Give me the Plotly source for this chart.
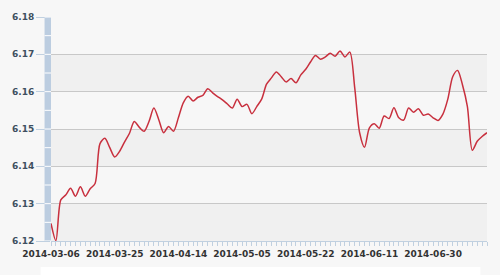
import plotly.graph_objects as go
import pandas as pd

# Trading days (CNY holidays excluded)
holidays = ["2014-04-07", "2014-05-01", "2014-05-02", "2014-06-02"]
dates = [d.strftime("%Y-%m-%d") for d in pd.bdate_range("2014-03-06", "2014-07-15")
         if d.strftime("%Y-%m-%d") not in holidays]

rate = [
    6.1247, 6.1201, 6.1310, 6.1323, 6.1341, 6.1320, 6.1345, 6.1320, 6.1340, 6.1354,
    6.1461, 6.1475, 6.1450, 6.1425, 6.1440, 6.1465, 6.1488, 6.1520, 6.1505, 6.1494,
    6.1520, 6.1556, 6.1525, 6.1490, 6.1507, 6.1494, 6.1530, 6.1570, 6.1588, 6.1575,
    6.1585, 6.1590, 6.1608, 6.1597, 6.1587, 6.1578, 6.1567, 6.1556, 6.1580, 6.1560,
    6.1566, 6.1541, 6.1560, 6.1580, 6.1620, 6.1637, 6.1653, 6.1640, 6.1626, 6.1635,
    6.1624, 6.1645, 6.1660, 6.1680, 6.1697, 6.1687, 6.1693, 6.1703, 6.1695, 6.1709,
    6.1693, 6.1706, 6.1610, 6.1490, 6.1451, 6.1503, 6.1514, 6.1502, 6.1535, 6.1528,
    6.1557, 6.1530, 6.1524, 6.1556, 6.1545, 6.1554, 6.1537, 6.1540, 6.1530, 6.1523,
    6.1540, 6.1580, 6.1640, 6.1657, 6.1618, 6.1560, 6.1443, 6.1467, 6.1480, 6.1490,
]

label_every = 13
y_ticks = [6.12, 6.13, 6.14, 6.15, 6.16, 6.17, 6.18]

fig = go.Figure()
fig.add_trace(go.Scatter(
    x=dates, y=rate, mode="lines",
    line=dict(color="#c8303e", width=1.5, shape="spline", smoothing=0.8),
    hoverinfo="x+y", showlegend=False,
))

shapes = []
# alternating bands
for i in range(len(y_ticks) - 1):
    if i % 2 == 0:
        shapes.append(dict(type="rect", xref="x domain", yref="y", x0=0, x1=1,
                           y0=y_ticks[i], y1=y_ticks[i + 1], fillcolor="#f0f0f0",
                           line=dict(width=0), layer="below"))
# blue bar at left
bar_w = 6.5 / 439.2
shapes.append(dict(type="rect", xref="x domain", yref="y", x0=-bar_w, x1=0,
                   y0=6.12, y1=6.18, fillcolor="#bccde0", line=dict(width=0), layer="above"))
v = 6.12
while v <= 6.18 + 1e-9:
    shapes.append(dict(type="line", xref="x domain", yref="y", x0=-bar_w, x1=0,
                       y0=v, y1=v, line=dict(color="#ffffff", width=1), layer="above"))
    v += 0.005
# white box at bottom
shapes.append(dict(type="rect", xref="paper", yref="paper", x0=-0.0239, x1=0.9848,
                   y0=-0.16, y1=-0.116, fillcolor="#ffffff", line=dict(width=0), layer="above"))

fig.update_layout(
    width=500, height=275,
    margin=dict(l=47.5, r=13.3, t=16.7, b=34),
    paper_bgcolor="#f7f7f7", plot_bgcolor="#f7f7f7",
    shapes=shapes,
    xaxis=dict(
        type="category", range=[0, len(dates) - 1],
        tickvals=dates,
        ticktext=[d if i % label_every == 0 else "" for i, d in enumerate(dates)],
        ticks="outside", ticklen=4, tickcolor="#c0d0e0", tickwidth=1,
        showline=True, linecolor="#c0d0e0", linewidth=1,
        showgrid=False, zeroline=False,
        tickfont=dict(family="DejaVu Sans", size=9, color="#333333", weight="bold"),
        tickangle=0,
    ),
    yaxis=dict(
        range=[6.12, 6.18], tickvals=y_ticks,
        ticktext=[f"{t:.2f}" for t in y_ticks],
        ticks="outside", ticklen=14, tickcolor="#c0d0e0", tickwidth=1,
        showgrid=True, gridcolor="#c8c8c8", gridwidth=1,
        zeroline=False, showline=False,
        tickfont=dict(family="DejaVu Sans", size=9, color="#3e4f60", weight="bold"),
    ),
)

fig.write_html("out.html")
